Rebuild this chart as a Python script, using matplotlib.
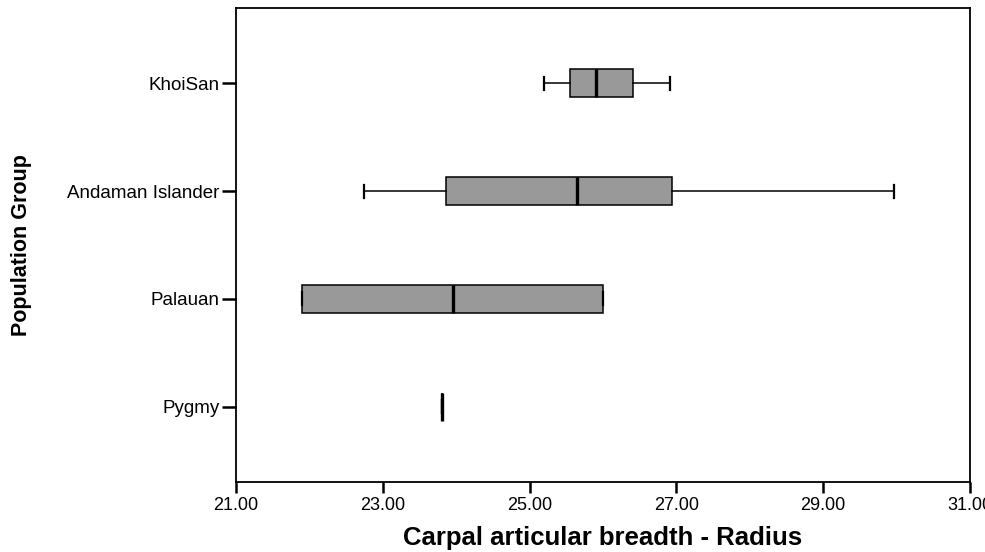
import matplotlib
matplotlib.use("Agg")
import matplotlib.pyplot as plt

plt.rcParams.update({
    "font.family": "Liberation Sans",
    "font.size": 13,
})

# values (bottom to top)
groups = ["Pygmy", "Palauan", "Andaman Islander", "KhoiSan"]
whisker_low = [23.81, 21.90, 22.74, 25.20]
q1 = [23.81, 21.90, 23.86, 25.55]
median = [23.81, 23.96, 25.65, 25.90]
q3 = [23.81, 26.00, 26.94, 26.41]
whisker_high = [23.81, 26.00, 29.96, 26.91]
x_ticks = [21, 23, 25, 27, 29, 31]

stats = []
for i, name in enumerate(groups):
    stats.append({
        "label": name,
        "whislo": whisker_low[i],
        "q1": q1[i],
        "med": median[i],
        "q3": q3[i],
        "whishi": whisker_high[i],
        "fliers": [],
    })

fig = plt.figure(figsize=(9.85, 5.52), dpi=100)
ax = fig.add_axes([236 / 985, 1 - 482 / 552, 734 / 985, 474 / 552])

positions = list(range(1, len(groups) + 1))
ax.bxp(
    stats,
    positions=positions,
    orientation="horizontal",
    widths=0.26,
    capwidths=0.12,
    patch_artist=True,
    showfliers=False,
    boxprops={"facecolor": "#999999", "edgecolor": "black", "linewidth": 1.1},
    medianprops={"color": "black", "linewidth": 2.4, "solid_capstyle": "butt"},
    whiskerprops={"color": "black", "linewidth": 1.1},
    capprops={"color": "black", "linewidth": 1.6},
)

ax.set_xlim(21, 31)
ax.set_ylim(0.3, len(groups) + 0.7)
ax.set_xticks(x_ticks)
ax.set_xticklabels([f"{v:.2f}" for v in x_ticks])
ax.set_yticks(positions)
ax.set_yticklabels(groups)

ax.tick_params(axis="y", direction="out", length=10, width=1.8, pad=2, labelsize=13.5)
ax.tick_params(axis="x", direction="out", length=8, width=1.8, pad=3, labelsize=13)
for sp in ax.spines.values():
    sp.set_linewidth(1.3)

ax.set_xlabel("Carpal articular breadth - Radius", fontsize=18.5, fontweight="bold")
ax.xaxis.set_label_coords(0.5, -0.092)
fig.text(22 / 985, 1 - 245 / 552, "Population Group", rotation=90,
         ha="center", va="center", fontsize=15.5, fontweight="bold")

fig.savefig("out.png", dpi=100, facecolor="white")
